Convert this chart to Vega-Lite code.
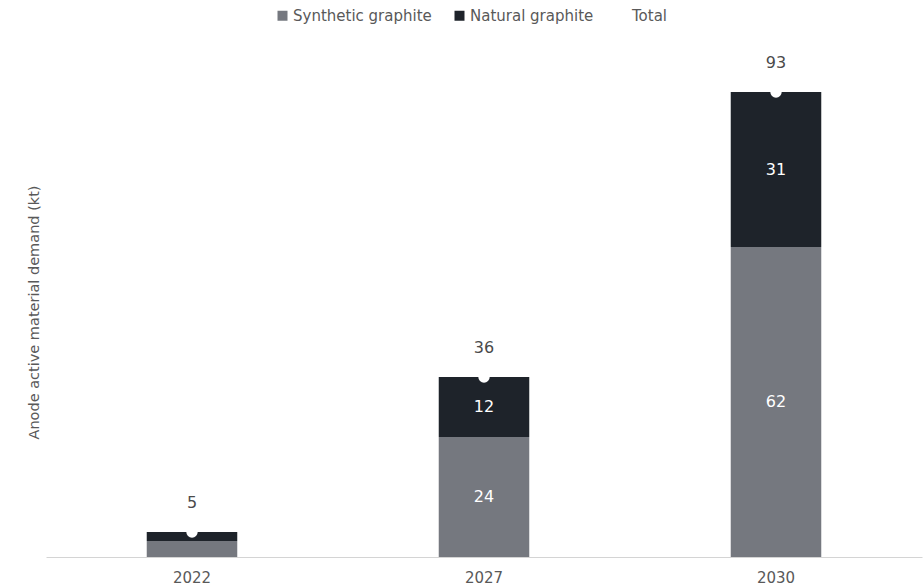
{
  "$schema": "https://vega.github.io/schema/vega-lite/v6.json",
  "width": 876,
  "height": 517,
  "autosize": {"type": "none"},
  "padding": {"left": 46, "top": 40, "right": 1, "bottom": 31},
  "background": "white",
  "config": {
    "view": {"stroke": null},
    "font": "DejaVu Sans",
    "text": {"font": "DejaVu Sans"}
  },
  "datasets": {
    "parts": [
      {"year": "2022", "type": "Synthetic graphite", "value": 3.2},
      {"year": "2022", "type": "Natural graphite", "value": 1.8},
      {"year": "2027", "type": "Synthetic graphite", "value": 24},
      {"year": "2027", "type": "Natural graphite", "value": 12},
      {"year": "2030", "type": "Synthetic graphite", "value": 62},
      {"year": "2030", "type": "Natural graphite", "value": 31}
    ],
    "totals": [
      {"year": "2022", "total": 5},
      {"year": "2027", "total": 36},
      {"year": "2030", "total": 93}
    ]
  },
  "encoding": {
    "x": {
      "field": "year",
      "type": "nominal",
      "scale": {"paddingInner": 0.69, "paddingOuter": 0.345},
      "axis": {
        "title": null,
        "labelAngle": 0,
        "labelFontSize": 15,
        "labelColor": "#595959",
        "labelPadding": 13,
        "ticks": false,
        "domainColor": "#d4d4d4",
        "grid": false
      }
    }
  },
  "layer": [
    {
      "data": {"name": "parts"},
      "mark": {"type": "bar"},
      "encoding": {
        "y": {
          "field": "value",
          "type": "quantitative",
          "stack": "zero",
          "scale": {"domain": [0, 103.4], "nice": false},
          "axis": {
            "title": "Anode active material demand (kt)",
            "titleFontSize": 14.5,
            "titleFontWeight": "normal",
            "titleColor": "#595959",
            "titlePadding": 5,
            "titleY": 272,
            "labels": false,
            "ticks": false,
            "domain": false,
            "grid": false
          }
        },
        "color": {
          "field": "type",
          "type": "nominal",
          "scale": {
            "domain": ["Synthetic graphite", "Natural graphite", "Total"],
            "range": ["#75787f", "#1e232a", "#ffffff"]
          },
          "legend": {
            "title": null,
            "orient": "none",
            "direction": "horizontal",
            "legendX": 229,
            "legendY": -32,
            "symbolType": "square",
            "symbolSize": 100,
            "symbolStrokeWidth": 0,
            "labelFontSize": 15,
            "labelColor": "#595959",
            "labelOffset": 3,
            "columnPadding": 20
          }
        },
        "order": {"field": "type", "sort": "descending"}
      }
    },
    {
      "data": {"name": "parts"},
      "transform": [{"filter": "datum.value >= 5"}],
      "mark": {"type": "text", "color": "white", "fontSize": 16, "baseline": "middle"},
      "encoding": {
        "y": {"field": "value", "type": "quantitative", "stack": "zero", "bandPosition": 0.5},
        "detail": {"field": "type"},
        "order": {"field": "type", "sort": "descending"},
        "text": {"field": "value", "type": "quantitative", "format": ".0f"}
      }
    },
    {
      "data": {"name": "totals"},
      "mark": {"type": "point", "filled": true, "shape": "circle", "size": 130, "opacity": 1, "fill": "white", "stroke": null},
      "encoding": {
        "y": {"field": "total", "type": "quantitative"}
      }
    },
    {
      "data": {"name": "totals"},
      "mark": {"type": "text", "color": "#4a4a4a", "fontSize": 16, "baseline": "middle", "dy": -29},
      "encoding": {
        "y": {"field": "total", "type": "quantitative"},
        "text": {"field": "total", "type": "quantitative"}
      }
    }
  ]
}
